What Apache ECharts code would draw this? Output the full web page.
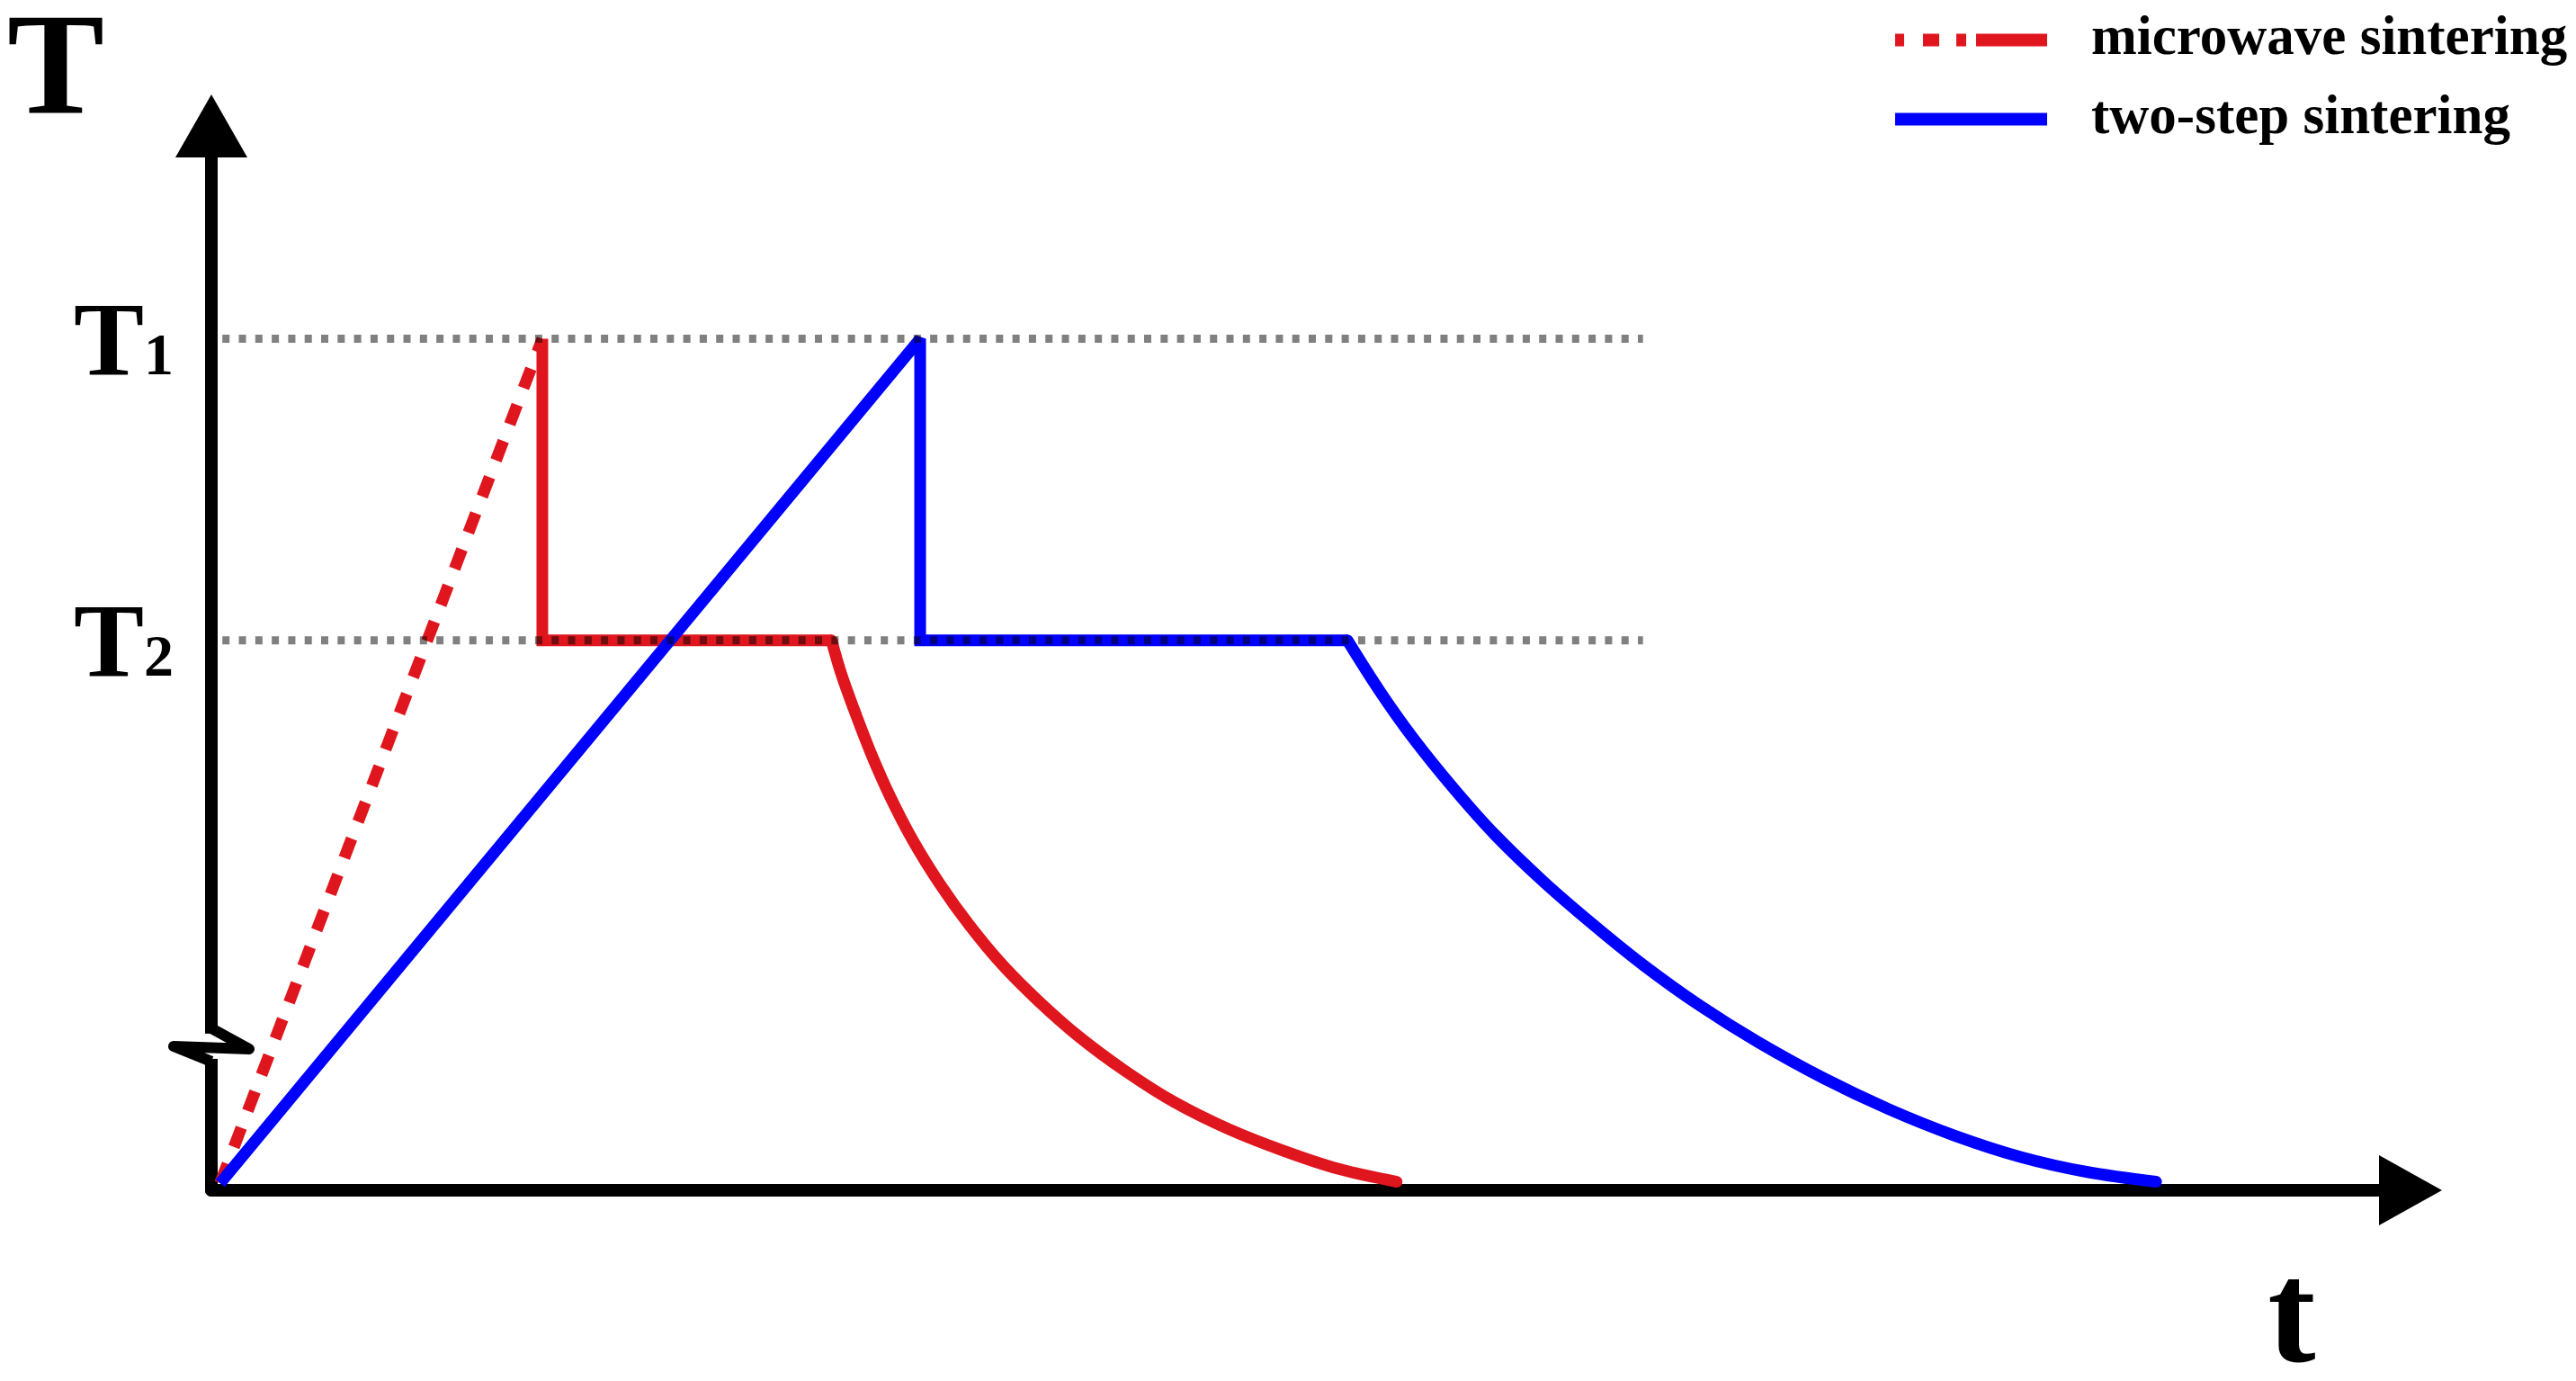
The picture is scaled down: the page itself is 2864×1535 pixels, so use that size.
<!DOCTYPE html>
<html>
<head>
<meta charset="utf-8">
<script src="https://cdn.jsdelivr.net/npm/echarts@6/dist/echarts.min.js"></script>
<style>
html,body{margin:0;padding:0;background:#fff;}
#c{width:2864px;height:1535px;}
</style>
</head>
<body>
<div id="c"></div>
<script>
// ---- data (time in arbitrary units, temperature in arbitrary units) ----
const T1 = 1200;
const T2 = 775;
const yLabelValues = [T2, T1];
const yLabelSubs = ['2', '1'];
const seriesNames = ['microwave sintering', 'two-step sintering'];

// microwave sintering: fast ramp (dashed), drop to T2 and hold, then cool
const microRampX = [0.4, 15.05];
const microRampY = [10, 1200];
const microHoldX = [15.05, 15.05, 28.2];
const microHoldY = [1200, 775, 775];
const microCoolX = [28.2, 28.64, 29.23, 29.98, 30.88, 31.92, 33.12, 34.46, 35.96, 37.6, 39.47, 41.56, 43.8, 46.27, 48.81, 51.27, 53.9];
const microCoolY = [775, 728, 677, 617, 554, 492, 432, 374, 318, 267, 216, 168, 124, 86, 55, 30, 12];

// two-step sintering: ramp to T1, drop to T2 and hold, then cool
const twoStepX = [0.4, 32.23, 32.23, 51.66];
const twoStepY = [10, 1200, 775, 775];
const twoCoolX = [51.66, 53.14, 54.63, 56.5, 58.37, 60.61, 62.85, 65.09, 67.7, 70.32, 73.31, 76.3, 79.28, 82.27, 85.26, 88.43];
const twoCoolY = [775, 703, 638, 566, 501, 434, 374, 318, 260, 209, 158, 114, 77, 47, 26, 12];

// dotted guide lines at T1 and T2
const refLineX = [0.5, 65.1];
const axisBreakValue = 203;

const xMax = 100, yMax = 1500;

// ---- styling ----
const RED = '#e0161e';
const BLUE = '#0000ff';
const SERIF = "'Liberation Serif', 'Times New Roman', serif";

function pairs(xs, ys) { return xs.map((x, i) => [x, ys[i]]); }

const chart = echarts.init(document.getElementById('c'), null, {renderer: 'canvas'});

function lineSeries(name, xs, ys, color, extra) {
  return Object.assign({
    type: 'line',
    name: name,
    data: pairs(xs, ys),
    symbol: 'none',
    showSymbol: false,
    silent: true,
    emphasis: {disabled: true},
    itemStyle: {color: color},
    lineStyle: {color: color, width: 13, join: 'miter', miterLimit: 2}
  }, extra || {});
}

const guideStyle = {color: '#808080', width: 9, type: [8, 10.3], cap: 'butt'};

const option = {
  backgroundColor: '#ffffff',
  animation: false,
  grid: {left: 235, right: 184, top: 140, bottom: 212, containLabel: false, outerBoundsMode: 'none'},
  xAxis: {
    type: 'value', min: 0, max: xMax,
    axisLine: {show: true, onZero: false, symbol: ['none', 'triangle'], symbolSize: [78, 70],
      lineStyle: {color: '#000', width: 14, cap: 'round'}},
    axisTick: {show: false}, axisLabel: {show: false}, splitLine: {show: false}
  },
  yAxis: {
    type: 'value', min: 0, max: yMax,
    axisLine: {show: true, onZero: false, symbol: ['none', 'triangle'], symbolSize: [80, 70],
      lineStyle: {color: '#000', width: 14, cap: 'round'}},
    axisTick: {show: false}, splitLine: {show: false},
    axisLabel: {
      show: true,
      customValues: yLabelValues,
      margin: 42,
      padding: [18, 0, 0, 0],
      formatter: function (v) {
        const i = yLabelValues.indexOf(v);
        return '{T|T}{s|' + (i >= 0 ? yLabelSubs[i] : '') + '}';
      },
      rich: {
        T: {fontFamily: SERIF, fontWeight: 'bold', fontSize: 117, lineHeight: 117, color: '#000'},
        s: {fontFamily: SERIF, fontWeight: 'bold', fontSize: 66, height: 90, verticalAlign: 'bottom', color: '#000'}
      }
    }
  },
  legend: {
    data: [
      {name: seriesNames[0], icon: 'path://M0,0h10v14h-10zM31,0h18v14h-18zM68,0h11v14h-11zM90,0h79v14h-79z'},
      {name: seriesNames[1], icon: 'path://M0,0h169v14h-169z'}
    ],
    orient: 'vertical',
    left: 2107, top: 14, padding: 0,
    itemWidth: 169, itemHeight: 14, itemGap: 27,
    selectedMode: false,
    itemStyle: {borderWidth: 0},
    formatter: function (name) { return '{t|' + name + '}'; },
    textStyle: {
      rich: {
        t: {fontFamily: SERIF, fontWeight: 'bold', fontSize: 61, lineHeight: 60, color: '#000', padding: [0, 0, 0, 44]}
      }
    }
  },
  series: [
    lineSeries(seriesNames[0], microRampX, microRampY, RED,
      {lineStyle: {color: RED, width: 13, type: [23, 20], cap: 'butt'}}),
    lineSeries(seriesNames[0], microHoldX, microHoldY, RED),
    lineSeries(seriesNames[0], microCoolX, microCoolY, RED,
      {smooth: 0.35, lineStyle: {color: RED, width: 13, cap: 'round', join: 'round'}}),
    lineSeries(seriesNames[1], twoStepX, twoStepY, BLUE),
    lineSeries(seriesNames[1], twoCoolX, twoCoolY, BLUE,
      {smooth: 0.35, lineStyle: {color: BLUE, width: 13, cap: 'round', join: 'round'}}),
    {type: 'line', name: 'T1 guide', data: pairs(refLineX, [T1, T1]), symbol: 'none', silent: true,
      emphasis: {disabled: true}, z: 5, blendMode: 'multiply', lineStyle: guideStyle, itemStyle: {color: '#808080'}},
    {type: 'line', name: 'T2 guide', data: pairs(refLineX, [T2, T2]), symbol: 'none', silent: true,
      emphasis: {disabled: true}, z: 5, blendMode: 'multiply', lineStyle: guideStyle, itemStyle: {color: '#808080'}}
  ]
};

chart.setOption(option);

// axis titles and axis-break mark (decorations positioned from the axes)
const yTop = chart.convertToPixel({gridIndex: 0}, [0, yMax]);
const xEnd = chart.convertToPixel({gridIndex: 0}, [xMax, 0]);
const br = chart.convertToPixel({gridIndex: 0}, [0, axisBreakValue]);
chart.setOption({
  graphic: [
    {type: 'text', x: yTop[0] - 173, y: yTop[1] - 57, z: 100,
      style: {text: 'T', fontFamily: SERIF, fontWeight: 'bold', fontSize: 162, fill: '#000', align: 'center', verticalAlign: 'middle'}},
    {type: 'text', x: xEnd[0] - 132, y: xEnd[1] + 149, z: 100,
      style: {text: 't', fontFamily: SERIF, fontWeight: 'bold', fontSize: 160, fill: '#000', align: 'center', verticalAlign: 'middle'}},
    {type: 'rect', z: 100, shape: {x: br[0] - 9, y: br[1] - 14, width: 18, height: 28}, style: {fill: '#fff'}},
    {type: 'polyline', z: 101,
      shape: {points: [[br[0], br[1] - 20], [br[0] + 42, br[1] + 3], [br[0] - 42, br[1]], [br[0], br[1] + 17]]},
      style: {stroke: '#000', lineWidth: 12, fill: null, lineJoin: 'round', lineCap: 'butt'}}
  ]
});
</script>
</body>
</html>
